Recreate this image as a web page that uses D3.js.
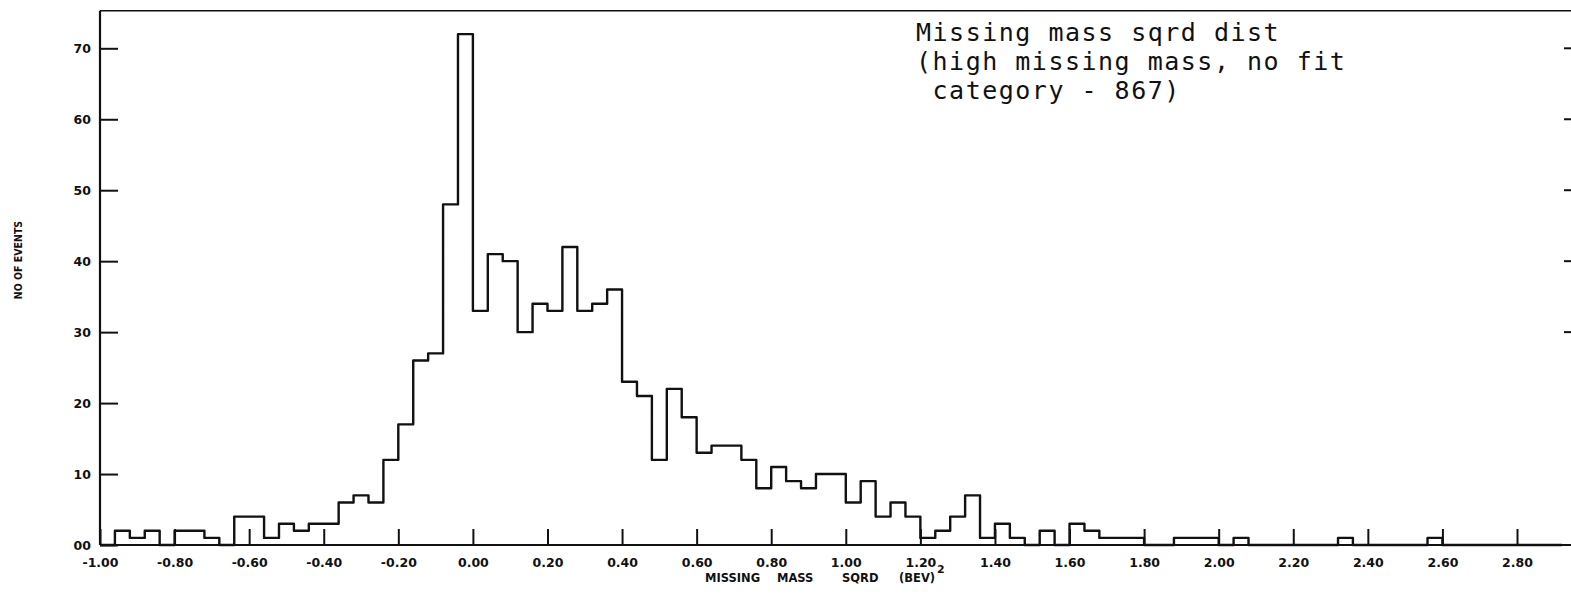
<!DOCTYPE html>
<html>
<head>
<meta charset="utf-8">
<script src="https://cdn.jsdelivr.net/npm/d3@7"></script>
<style>
  html, body { margin: 0; padding: 0; background: #fff; }
  svg { display: block; }
</style>
</head>
<body>
<svg id="chart" width="1571" height="595"></svg>
<script>
// Histogram of missing mass squared, bins of 0.04 (BeV)^2 starting at -1.00
const binStart = -1.00;
const binWidth = 0.04;
const counts = [
  0, 2, 1, 2, 0, 2, 2, 1, 0, 4,      // -1.00 .. -0.64
  4, 1, 3, 2, 3, 3, 6, 7, 6, 12,     // -0.60 .. -0.24
  17, 26, 27, 48, 72, 33, 41, 40, 30, 34, // -0.20 .. 0.16
  33, 42, 33, 34, 36, 23, 21, 12, 22, 18, // 0.20 .. 0.56
  13, 14, 14, 12, 8, 11, 9, 8, 10, 10,    // 0.60 .. 0.96
  6, 9, 4, 6, 4, 1, 2, 4, 7, 1,           // 1.00 .. 1.36
  3, 1, 0, 2, 0, 3, 2, 1, 1, 1,           // 1.40 .. 1.76
  0, 0, 1, 1, 1, 0, 1, 0, 0, 0,           // 1.80 .. 2.16
  0, 0, 0, 1, 0, 0, 0, 0, 0, 1,           // 2.20 .. 2.56
  0, 0, 0, 0, 0, 0, 0, 0                  // 2.60 .. 2.88
];

const xTickValues = [-1.0, -0.8, -0.6, -0.4, -0.2, 0.0, 0.2, 0.4, 0.6, 0.8,
                     1.0, 1.2, 1.4, 1.6, 1.8, 2.0, 2.2, 2.4, 2.6, 2.8];
const xTickLabels = ["-1.00", "-0.80", "-0.60", "-0.40", "-0.20", "0.00", "0.20", "0.40", "0.60", "0.80",
                     "1.00", "1.20", "1.40", "1.60", "1.80", "2.00", "2.20", "2.40", "2.60", "2.80"];
const yTickValues = [0, 10, 20, 30, 40, 50, 60, 70];
const yTickLabels = ["00", "10", "20", "30", "40", "50", "60", "70"];
const rightMarkValues = [70, 60, 50, 40, 30];

const titleLines = ["Missing mass sqrd dist", "(high missing mass, no fit", " category - 867)"];
const xTitleWords = ["MISSING", "MASS", "SQRD", "(BEV)"];
const xTitleSup = "2";
const yTitle = "NO OF EVENTS";

const svg = d3.select("#chart");
svg.append("rect").attr("width", 1571).attr("height", 595).attr("fill", "#fff");

const x = d3.scaleLinear().domain([-1.0, 2.8]).range([100, 1517]);
const y = d3.scaleLinear().domain([0, 70]).range([545, 48.3]);
const yFrameTop = 75.3;
const xFrameRight = 1571;

const ink = "#111";
const labelFont = "'DejaVu Sans', 'Liberation Sans', sans-serif";

// Frame: top border, left axis line, baseline
svg.append("line")
  .attr("x1", x(-1)).attr("x2", xFrameRight)
  .attr("y1", y(yFrameTop)).attr("y2", y(yFrameTop))
  .attr("stroke", ink).attr("stroke-width", 1.6);
svg.append("line")
  .attr("x1", x(-1)).attr("x2", x(-1))
  .attr("y1", y(yFrameTop)).attr("y2", y(0))
  .attr("stroke", ink).attr("stroke-width", 2.2);
svg.append("line")
  .attr("x1", x(-1)).attr("x2", xFrameRight)
  .attr("y1", y(0)).attr("y2", y(0))
  .attr("stroke", ink).attr("stroke-width", 2);

// Short marks on the right edge
svg.append("g").selectAll("line")
  .data(rightMarkValues).join("line")
  .attr("x1", xFrameRight - 7).attr("x2", xFrameRight)
  .attr("y1", d => y(d)).attr("y2", d => y(d))
  .attr("stroke", ink).attr("stroke-width", 2);

// Bottom axis: ticks point upward into the plot
const xAxis = d3.axisBottom(x)
  .tickValues(xTickValues)
  .tickFormat((d, i) => xTickLabels[i])
  .tickSizeInner(-16).tickSizeOuter(0).tickPadding(13);
const gx = svg.append("g").attr("transform", `translate(0,${y(0)})`).call(xAxis);
gx.select(".domain").remove();
gx.selectAll(".tick line").attr("stroke", ink).attr("stroke-width", 2);
gx.selectAll(".tick text")
  .attr("fill", ink)
  .style("font-family", labelFont).style("font-weight", "bold").style("font-size", "12.5px");

// Left axis: ticks point right into the plot
const yAxis = d3.axisLeft(y)
  .tickValues(yTickValues)
  .tickFormat((d, i) => yTickLabels[i])
  .tickSizeInner(-18).tickSizeOuter(0).tickPadding(9);
const gy = svg.append("g").attr("transform", `translate(${x(-1)},0)`).call(yAxis);
gy.select(".domain").remove();
gy.selectAll(".tick line").attr("stroke", ink).attr("stroke-width", 2);
gy.selectAll(".tick text")
  .attr("fill", ink)
  .style("font-family", labelFont).style("font-weight", "bold").style("font-size", "12.5px");

// Histogram outline as a stepped path
const pts = [[binStart, 0]];
counts.forEach((c, i) => {
  const lo = binStart + i * binWidth;
  pts.push([lo, c], [lo + binWidth, c]);
});
pts.push([binStart + counts.length * binWidth, 0]);
const stepLine = d3.line().x(d => x(d[0])).y(d => y(d[1]));
svg.append("path")
  .attr("d", stepLine(pts))
  .attr("fill", "none")
  .attr("stroke", ink)
  .attr("stroke-width", 2.4)
  .attr("stroke-linejoin", "round");

// Axis titles
const xTitle = svg.append("text")
  .attr("y", 582)
  .attr("fill", ink)
  .style("font-family", labelFont).style("font-weight", "bold").style("font-size", "11.5px");
const wordX = [705, 777, 842, 899];
xTitleWords.forEach((w, i) => {
  xTitle.append("tspan").attr("x", wordX[i]).text(w);
});
xTitle.append("tspan").attr("x", 937).attr("dy", -9).style("font-size", "11px").text(xTitleSup);

svg.append("text")
  .attr("transform", "translate(22,260) rotate(-90)")
  .attr("text-anchor", "middle")
  .attr("fill", ink)
  .style("font-family", "'DejaVu Sans Condensed', 'DejaVu Sans', sans-serif")
  .style("font-weight", "bold").style("font-size", "10.5px")
  .text(yTitle);

// Annotation block
const note = svg.append("text")
  .attr("fill", ink)
  .attr("xml:space", "preserve")
  .style("white-space", "pre")
  .style("font-family", "'DejaVu Sans Mono', 'Liberation Mono', monospace")
  .style("font-size", "25px")
  .style("letter-spacing", "1.5px");
const noteBaselines = [41, 70, 99];
titleLines.forEach((t, i) => {
  note.append("tspan").attr("x", 916).attr("y", noteBaselines[i]).text(t);
});
</script>
</body>
</html>
